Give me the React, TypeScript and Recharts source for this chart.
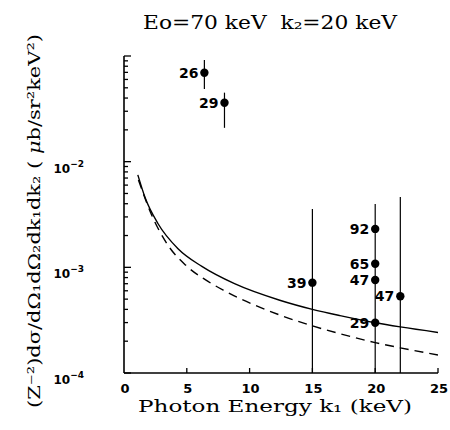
import React from 'react';
import { ComposedChart, Line, Scatter, XAxis, YAxis, ErrorBar } from 'recharts';

// ---- data ----
const xTicks = [0, 5, 10, 15, 20, 25];
const yDecades = [1e-4, 1e-3, 1e-2, 1e-1];
const yLabelExponents = [-4, -3, -2];

// solid theory curve
const solidK = [1.1, 1.7, 2.7, 4.3, 6.2, 8.8, 12.4, 15, 17.2, 20, 22, 25];
const solidSigma = [7.5e-3, 4.5e-3, 2.6e-3, 1.5e-3, 1.02e-3, 7.0e-4, 4.88e-4, 4.0e-4, 3.49e-4, 2.99e-4, 2.73e-4, 2.42e-4];

// dashed theory curve
const dashedK = [1.15, 2.2, 3.5, 4.9, 6.5, 8.0, 12.4, 15, 17.1, 20, 22, 25];
const dashedSigma = [6.7e-3, 3.13e-3, 1.62e-3, 1.05e-3, 7.6e-4, 6.0e-4, 3.54e-4, 2.79e-4, 2.37e-4, 1.94e-4, 1.73e-4, 1.48e-4];

// measured points (Z labels)
const pointK = [6.4, 8.0, 15, 20, 20, 20, 20, 22];
const pointSigma = [6.95e-2, 3.61e-2, 7.16e-4, 2.31e-3, 1.08e-3, 7.59e-4, 2.99e-4, 5.32e-4];
const pointZ = ['26', '29', '39', '92', '65', '47', '29', '47'];
const pointLower = [4.88e-2, 2.09e-2, 1e-4, 1e-4, 1.08e-3, 7.59e-4, 2.99e-4, 1e-4];
const pointUpper = [9.16e-2, 4.5e-2, 3.56e-3, 3.97e-3, 1.08e-3, 7.59e-4, 2.99e-4, 4.63e-3];

// ---- tables built from the arrays ----
const solidData = solidK.map((k, i) => ({ k, sigma: solidSigma[i] }));
const dashedData = dashedK.map((k, i) => ({ k, sigma: dashedSigma[i] }));
const pointData = pointK.map((k, i) => ({
  k,
  sigma: pointSigma[i],
  z: pointZ[i],
  err: [pointSigma[i] - pointLower[i], pointUpper[i] - pointSigma[i]],
}));

const yTicks: number[] = [];
yDecades.forEach((d, i) => {
  yTicks.push(d);
  if (i < yDecades.length - 1) {
    for (let m = 2; m <= 9; m++) yTicks.push(d * m);
  }
});

const SANS = 'DejaVu Sans';
const SERIF = 'DejaVu Serif';

const XTick = (props: any) => {
  const { x, y, payload } = props;
  return (
    <g>
      {payload.value !== 0 && (
        <line x1={x} x2={x} y1={y} y2={y - 5} stroke="#000" strokeWidth={1.3} />
      )}
      <text x={x + 1} y={y + 20} textAnchor="middle" fontFamily={SANS} fontWeight="bold" fontSize={13} fill="#000">
        {payload.value}
      </text>
    </g>
  );
};

const YTick = (props: any) => {
  const { x, y, payload } = props;
  const lg = Math.log10(payload.value);
  const exp = Math.round(lg);
  const major = Math.abs(lg - exp) < 1e-6;
  const showLabel = major && yLabelExponents.includes(exp);
  return (
    <g>
      <line x1={x} x2={x + (major ? 7 : 4)} y1={y} y2={y} stroke="#000" strokeWidth={1.3} />
      {showLabel && (
        <text x={x - 40} y={y + 11} textAnchor="end" fontFamily={SANS} fontWeight="bold" fontSize={12} fill="#000">
          10
          <tspan dy={-6} fontSize={9}>{'\u2212' + Math.abs(exp)}</tspan>
        </text>
      )}
    </g>
  );
};

const PointShape = (props: any) => {
  const { cx, cy, payload } = props;
  return (
    <g>
      <circle cx={cx} cy={cy} r={4.2} fill="#000" />
      <text x={cx - 6} y={cy + 5} textAnchor="end" fontFamily={SANS} fontWeight="bold" fontSize={14} fill="#000">
        {payload.z}
      </text>
    </g>
  );
};

const XTitle = () => (
  <text
    x={275}
    y={412}
    textAnchor="middle"
    fontFamily={SERIF}
    fontSize={17}
    textLength={274}
    lengthAdjust="spacingAndGlyphs"
    fill="#000"
  >
    Photon Energy k₁ (keV)
  </text>
);

const YTitle = () => (
  <g>
    <text
      x={270}
      y={29}
      textAnchor="middle"
      fontFamily={SERIF}
      fontSize={18}
      textLength={254}
      lengthAdjust="spacingAndGlyphs"
      fill="#000"
    >
      {'Eo=70 keV\u00a0\u00a0k₂=20 keV'}
    </text>
    <text
      x={0}
      y={0}
      transform="translate(40 221) rotate(-90)"
      textAnchor="middle"
      fontFamily={SERIF}
      fontSize={17}
      textLength={374}
      lengthAdjust="spacingAndGlyphs"
      fill="#000"
    >
      (Z⁻²)dσ/dΩ₁dΩ₂dk₁dk₂ ( <tspan fontStyle="italic">μ</tspan>b/sr²keV²)
    </text>
  </g>
);

export default function App() {
  return (
    <div style={{ position: 'absolute', left: 0, top: 0, background: '#fff' }}>
      <ComposedChart width={450} height={430} margin={{ top: 56, right: 12, bottom: 0, left: 0 }}>
        <XAxis
          type="number"
          dataKey="k"
          domain={[0, 25]}
          ticks={xTicks}
          interval={0}
          allowDataOverflow
          tickSize={0}
          tickMargin={0}
          tickLine={false}
          tick={<XTick />}
          height={57}
          axisLine={{ stroke: '#000', strokeWidth: 1.6 }}
          label={<XTitle />}
        />
        <YAxis
          type="number"
          scale="log"
          domain={[1e-4, 1e-1]}
          ticks={yTicks}
          interval={0}
          allowDataOverflow
          width={124}
          tickSize={0}
          tickMargin={0}
          tickLine={false}
          tick={<YTick />}
          axisLine={{ stroke: '#000', strokeWidth: 1.6 }}
          label={<YTitle />}
        />
        <Line
          data={solidData}
          dataKey="sigma"
          type="monotone"
          stroke="#000"
          strokeWidth={1.4}
          dot={false}
          isAnimationActive={false}
        />
        <Line
          data={dashedData}
          dataKey="sigma"
          type="monotone"
          stroke="#000"
          strokeWidth={1.4}
          strokeDasharray="9 6"
          dot={false}
          isAnimationActive={false}
        />
        <Scatter data={pointData} dataKey="sigma" shape={PointShape} isAnimationActive={false}>
          <ErrorBar dataKey="err" direction="y" width={0} stroke="#000" strokeWidth={1.2} isAnimationActive={false} />
        </Scatter>
      </ComposedChart>
    </div>
  );
}
